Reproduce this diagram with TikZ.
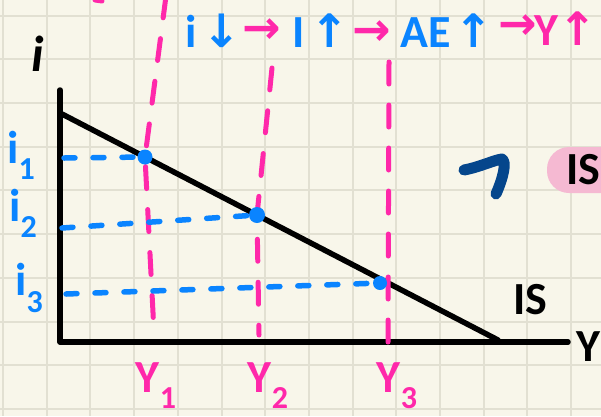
\documentclass[tikz,border=0pt]{standalone}
\usepackage{fontspec}
\usetikzlibrary{calc}
\newfontfamily\handfont{Carlito}
\newfontfamily\arrfont{DejaVu Sans}
\definecolor{paper}{HTML}{F8F6EA}
\definecolor{gridln}{HTML}{E2E0D2}
\definecolor{penBlue}{HTML}{0A84FF}
\definecolor{penPink}{HTML}{FF28AA}
\definecolor{penNavy}{HTML}{05468C}
\definecolor{hlPink}{HTML}{F5B9D2}
\newcommand{\hw}{\handfont\bfseries\fontsize{46}{46}\selectfont}
\newcommand{\hwsub}[1]{\raisebox{-0.35em}{\fontsize{32}{32}\selectfont #1}}
\newcommand{\uparr}{{\arrfont\bfseries ↑}}
\newcommand{\dnarr}{{\arrfont\bfseries ↓}}
\newcommand{\rtarr}{{\arrfont\bfseries →}}
\tikzset{
  axisln/.style  = {draw=black, line width=5.5pt, line cap=round, line join=round},
  isln/.style    = {draw=black, line width=5.5pt, line cap=round},
  guidei/.style  = {draw=penBlue, line width=5.5pt, line cap=round,
                    dash pattern=on 11pt off 18pt},
  guidey/.style  = {draw=penPink, line width=5pt, line cap=round,
                    line join=round, dash pattern=on 22pt off 21pt},
  eqdot/.style   = {circle, fill=penBlue, inner sep=0pt, minimum size=15pt},
  lblk/.style    = {text=black, font=\hw, inner sep=0pt},
  lblue/.style   = {lblk, text=penBlue},
  lpink/.style   = {lblk, text=penPink},
}
\begin{document}
\begin{tikzpicture}[x=1pt, y=-1pt]
  \useasboundingbox (0,0) rectangle (601,416);
  \clip (0,0) rectangle (601,416);
  % squared paper
  \fill[paper] (0,0) rectangle (601,416);
  \foreach \k in {0,...,13}
    \draw[gridln, line width=2pt] ({3+43.7*\k},0) -- ({3+43.7*\k},416);
  \foreach \k in {0,...,9}
    \draw[gridln, line width=2pt] (0,{15.6+43.7*\k}) -- (601,{15.6+43.7*\k});

  % axes and IS curve
  \coordinate (ytop) at (60,90);
  \coordinate (orig) at (60,342);
  \coordinate (xend) at (568,342);
  \coordinate (isa)  at (62,114);
  \coordinate (isb)  at (498,340);
  \draw[axisln] (ytop) -- (orig) -- (xend);
  \draw[isln] (isa) -- (isb);

  % equilibria
  \coordinate (e1) at (145,157);
  \coordinate (e2) at (257,215);
  \coordinate (e3) at (380,283);
  \coordinate (i1a) at (64,158);
  \coordinate (i2a) at (62,228);
  \coordinate (i3a) at (66,294);
  \coordinate (y1t) at (166,-4);
  \coordinate (y1b) at (154,332);
  \coordinate (y2t) at (272,68);
  \coordinate (y2b) at (259,335);
  \coordinate (y3t) at (389,62);
  \coordinate (y3b) at (388,345);
  \draw[guidey] (y1t) -- (e1) -- (y1b);
  \draw[guidey] (y2t) -- (e2) -- (y2b);
  \draw[guidey] (y3t) -- (y3b);
  \draw[guidei] (i1a) -- (e1);
  \draw[guidei] (i2a) -- (e2);
  \draw[guidei] (i3a) -- (e3);
  \node[eqdot] (dot1) at (e1) {};
  \node[eqdot, minimum size=16pt] (dot2) at (e2) {};
  \node[eqdot, minimum size=14pt] (dot3) at (e3) {};
  \draw[penPink, line width=5pt, line cap=round] (95,0) -- (102,1);

  % axis labels
  \node[lblk, font=\hw\itshape, scale=1.1] (ilab) at (38,54) {i};
  \node[lblk, anchor=east] (ylab) at (601,347) {Y};
  \node[lblk] (islab) at (530,300) {IS};
  \node[lblue] (i1lab) at (21,155) {i\hwsub{1}};
  \node[lblue] (i2lab) at (23,213) {i\hwsub{2}};
  \node[lblue] (i3lab) at (29,288) {i\hwsub{3}};
  \node[lpink] (y1lab) at (156,386) {Y\hwsub{1}};
  \node[lpink] (y2lab) at (268,386) {Y\hwsub{2}};
  \node[lpink] (y3lab) at (397,386) {Y\hwsub{3}};

  % transmission chain
  \node[lblue] (ifall) at (213,31) {i\hspace{6pt}\dnarr};
  \node[lpink] (to1)   at (262,31) {\rtarr};
  \node[lblue] (invup) at (321,31) {I\hspace{6pt}\uparr};
  \node[lpink] (to2)   at (372,33) {\rtarr};
  \node[lblue] (aeup)  at (447,31) {AE\hspace{4pt}\uparr};
  \node[lpink] (to3)   at (518,27) {\rtarr};
  \node[lpink] (yup)   at (566,29) {Y\uparr};

  % shift mark and highlighted IS
  \draw[penNavy, line width=11pt, line cap=round, line join=round]
    (464,170) .. controls (480,167) and (494,160) .. (502,159)
    .. controls (507,162) and (503,178) .. (496,194);
  \fill[hlPink, rounded corners=22pt] (547,147) rectangle (650,193);
  \node[lblk, anchor=west] (ishl) at (566,170) {IS};
\end{tikzpicture}
\end{document}
